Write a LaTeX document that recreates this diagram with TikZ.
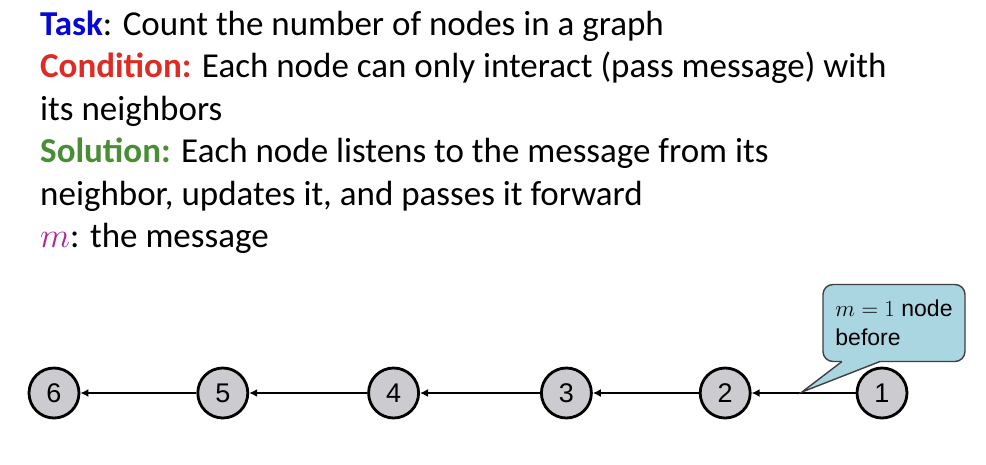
\documentclass[tikz,border=0pt]{standalone}
\usepackage{fix-cm}
\usepackage{fontspec}
\setmainfont{Carlito}
\newfontfamily\arialfont{Liberation Sans}
\usetikzlibrary{arrows.meta,positioning}
\definecolor{taskblue}{RGB}{8,8,214}
\definecolor{condred}{RGB}{222,44,36}
\definecolor{solgreen}{RGB}{72,142,52}
\definecolor{msgpurple}{RGB}{176,36,150}
\definecolor{nodegray}{RGB}{204,204,208}
\definecolor{notecyan}{RGB}{170,214,226}

\begin{document}
\begin{tikzpicture}[
    x=1pt,y=-1pt,
    vertex/.style={circle,draw,line width=2.8pt,fill=nodegray,minimum size=50pt,inner sep=0pt,font=\arialfont\fontsize{27}{27}\selectfont},
    line/.style={anchor=base west,inner sep=0pt,font=\fontsize{35}{40}\selectfont},
    msg/.style={line width=2.6pt,-{Latex[length=8pt,width=8pt]}},
    note/.style={draw=black!75,line width=1.4pt,fill=notecyan,rounded corners=10pt,minimum width=142pt,minimum height=77pt,align=left,font=\arialfont\fontsize{23}{29}\selectfont}
  ]
  \useasboundingbox[fill=white] (0,0) rectangle (986,464);
  % text lines
  \node[line] (task) at (40,35) {\textbf{\color{taskblue}Task}: Count the number of nodes in a graph};
  \node[line] (cond) at (40,77.5) {\textbf{\color{condred}Condition:} Each node can only interact (pass message) with};
  \node[line] (cond2) at (40,120) {its neighbors};
  \node[line] (sol) at (40,162.5) {\textbf{\color{solgreen}Solution:} Each node listens to the message from its};
  \node[line] (sol2) at (40,205) {neighbor, updates it, and passes it forward};
  \node[line] (msgdef) at (40,247.5) {{\color{msgpurple}$m$}: the message};
  % the chain
  \node[vertex] (n1) at (882,393) {1};
  \node[vertex,left=104pt of n1] (n2) {2};
  \node[vertex,left=106pt of n2] (n3) {3};
  \node[vertex,left=120pt of n3] (n4) {4};
  \node[vertex,left=118pt of n4] (n5) {5};
  \node[vertex,left=116pt of n5] (n6) {6};
  \foreach \a/\b in {1/2,2/3,3/4,4/5,5/6}
    \draw[msg] (n\a) -- (n\b);
  % callout
  \node[note] (note) at (894,323) {$m=1$ node\\before};
  \coordinate (tip) at (802,392);
  \fill[notecyan] ([xshift=-52pt,yshift=3pt]note.south) -- ([xshift=-52pt]note.south) -- (tip) -- ([xshift=-14pt]note.south) -- ([xshift=-14pt,yshift=3pt]note.south) -- cycle;
  \draw[black!75,line width=1.4pt] ([xshift=-52pt,yshift=0.7pt]note.south) -- (tip) -- ([xshift=-14pt,yshift=0.7pt]note.south);
\end{tikzpicture}
\end{document}
